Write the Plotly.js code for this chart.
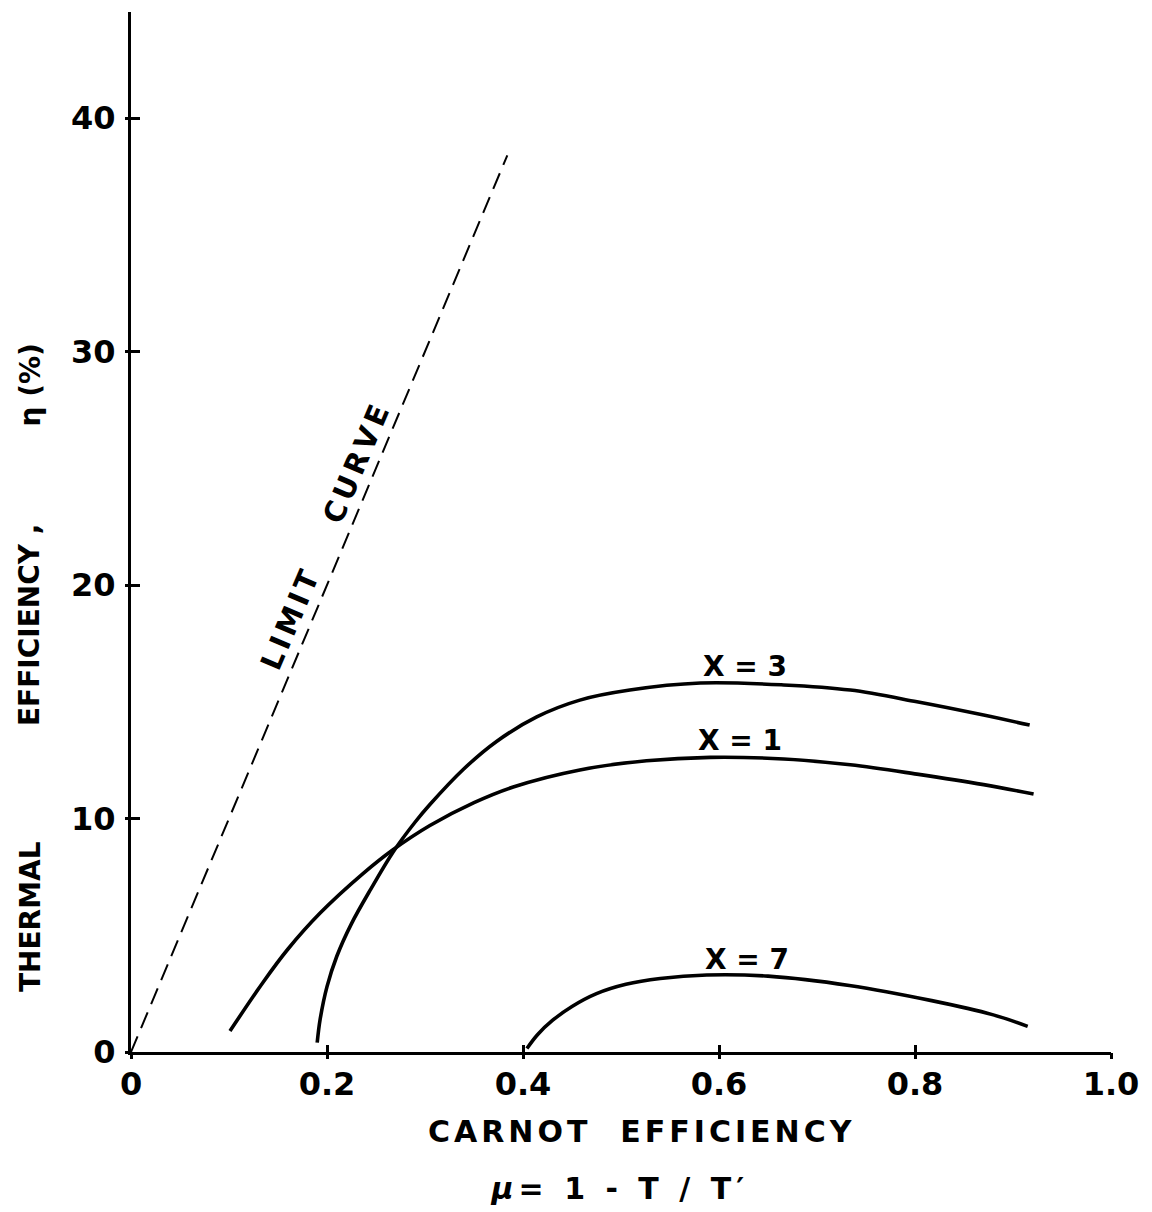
<!DOCTYPE html>
<html>
<head>
<meta charset="utf-8">
<script src="https://cdn.plot.ly/plotly-3.0.1.min.js"></script>
<style>
  html, body { margin: 0; padding: 0; background: #fff; }
  #chart { width: 1152px; height: 1212px; }
  .annotation[data-index="0"] text { letter-spacing: 4px; }
  .annotation[data-index="1"] text { letter-spacing: 5px; }
  .annotation[data-index="5"] text { letter-spacing: 4px; }
  .annotation[data-index="6"] text { letter-spacing: 4px; }
</style>
</head>
<body>
<div id="chart"></div>
<script>
// ---- data ----
const limitX = [0, 0.384];
const limitY = [0, 38.4];

const x1X = [0.101, 0.135, 0.160, 0.193, 0.237, 0.267, 0.305, 0.350, 0.390, 0.458, 0.526, 0.591, 0.666, 0.734, 0.802, 0.870, 0.921];
const x1Y = [0.9, 3.0, 4.4, 5.95, 7.65, 8.65, 9.7, 10.68, 11.35, 12.08, 12.47, 12.62, 12.55, 12.3, 11.9, 11.45, 11.05];

const x3X = [0.190, 0.193, 0.200, 0.210, 0.225, 0.245, 0.268, 0.290, 0.305, 0.339, 0.373, 0.414, 0.458, 0.509, 0.581, 0.666, 0.734, 0.802, 0.870, 0.917];
const x3Y = [0.4, 1.4, 2.8, 4.1, 5.5, 7.0, 8.6, 9.85, 10.6, 12.1, 13.3, 14.35, 15.07, 15.5, 15.8, 15.72, 15.5, 15.0, 14.43, 14.0];

const x7X = [0.404, 0.415, 0.430, 0.450, 0.475, 0.505, 0.540, 0.5875, 0.650, 0.733, 0.817, 0.879, 0.915];
const x7Y = [0.15, 0.75, 1.35, 1.95, 2.5, 2.9, 3.15, 3.3, 3.25, 2.85, 2.2, 1.6, 1.1];

const xTickVals = [0, 0.2, 0.4, 0.6, 0.8, 1.0];
const xTickText = ["0", "0.2", "0.4", "0.6", "0.8", "1.0"];
const yTickVals = [0, 10, 20, 30, 40];
const yTickText = ["0", "10", "20", "30", "40"];

const curveLabels = ["X = 3", "X = 1", "X = 7"];
const curveLabelX = [0.6265, 0.621, 0.629];
const curveLabelY = [16.53, 13.36, 3.98];

const FONT = "DejaVu Sans, Liberation Sans, sans-serif";
const bold = (s) => ({family: FONT, size: s, color: "#000", weight: "bold"});

const solid = {color: "#000", width: 3.6, shape: "spline", smoothing: 1};

const traces = [
  {x: limitX, y: limitY, mode: "lines", line: {color: "#000", width: 2, dash: "17px,9px"}, showlegend: false, hoverinfo: "skip"},
  {x: x1X, y: x1Y, mode: "lines", line: solid, showlegend: false},
  {x: x3X, y: x3Y, mode: "lines", line: solid, showlegend: false},
  {x: x7X, y: x7Y, mode: "lines", line: solid, showlegend: false},
  {x: [], y: [], xaxis: "x2", yaxis: "y2", showlegend: false, hoverinfo: "skip"}
];

const annotations = [
  {text: "CARNOT\u00A0\u00A0EFFICIENCY", xref: "paper", yref: "paper", x: 0.5224, y: -0.0769,
   xanchor: "center", yanchor: "middle", showarrow: false, font: bold(30)},
  {text: "<i>μ</i>= 1 - T / T′", xref: "paper", yref: "paper", x: 0.499, y: -0.131,
   xanchor: "center", yanchor: "middle", showarrow: false, font: bold(30)},
  {text: "THERMAL", xref: "paper", yref: "paper", x: -0.103, y: 0.1298, textangle: -90,
   xanchor: "center", yanchor: "middle", showarrow: false, font: bold(28)},
  {text: "EFFICIENCY ,", xref: "paper", yref: "paper", x: -0.103, y: 0.4106, textangle: -90,
   xanchor: "center", yanchor: "middle", showarrow: false, font: bold(28)},
  {text: "η (%)", xref: "paper", yref: "paper", x: -0.103, y: 0.641, textangle: -90,
   xanchor: "center", yanchor: "middle", showarrow: false, font: bold(28)},
  {text: "LIMIT", xref: "x", yref: "y", x: 0.163, y: 18.59, textangle: -67,
   xanchor: "center", yanchor: "middle", showarrow: false, font: bold(29)},
  {text: "CURVE", xref: "x", yref: "y", x: 0.2306, y: 25.27, textangle: -67,
   xanchor: "center", yanchor: "middle", showarrow: false, font: bold(29)}
];
for (let i = 0; i < curveLabels.length; i++) {
  annotations.push({text: curveLabels[i], xref: "x", yref: "y", x: curveLabelX[i], y: curveLabelY[i],
    xanchor: "center", yanchor: "middle", showarrow: false, font: bold(28)});
}

const layout = {
  width: 1152, height: 1212,
  margin: {l: 131, r: 41, t: 12, b: 160},
  paper_bgcolor: "#fff", plot_bgcolor: "#fff",
  showlegend: false,
  font: bold(30),
  xaxis: {
    range: [0, 1.0], showgrid: false, zeroline: false,
    showline: true, linewidth: 3, linecolor: "#000",
    tickmode: "array", tickvals: xTickVals, ticktext: xTickText,
    ticks: "inside", ticklen: 7, tickwidth: 3, tickcolor: "#000",
    ticklabelstandoff: 2,
    tickfont: bold(32)
  },
  yaxis: {
    range: [0, 44.54], showgrid: false, zeroline: false,
    showline: true, linewidth: 3, linecolor: "#000",
    tickmode: "array", tickvals: yTickVals, ticktext: yTickText,
    ticks: "inside", ticklen: 9, tickwidth: 3, tickcolor: "#000",
    ticklabelstandoff: 6,
    tickfont: bold(32)
  },
  xaxis2: {
    overlaying: "x", anchor: "y2", side: "bottom", range: [0, 1.0],
    showgrid: false, zeroline: false, showline: false, showticklabels: false,
    tickmode: "array", tickvals: xTickVals,
    ticks: "outside", ticklen: 6, tickwidth: 3, tickcolor: "#000"
  },
  yaxis2: {
    overlaying: "y", anchor: "x2", side: "left", range: [0, 44.54],
    showgrid: false, zeroline: false, showline: false, showticklabels: false,
    tickmode: "array", tickvals: yTickVals,
    ticks: "outside", ticklen: 5, tickwidth: 3, tickcolor: "#000"
  },
  annotations: annotations
};

Plotly.newPlot("chart", traces, layout, {displayModeBar: false, staticPlot: true});
</script>
</body>
</html>
